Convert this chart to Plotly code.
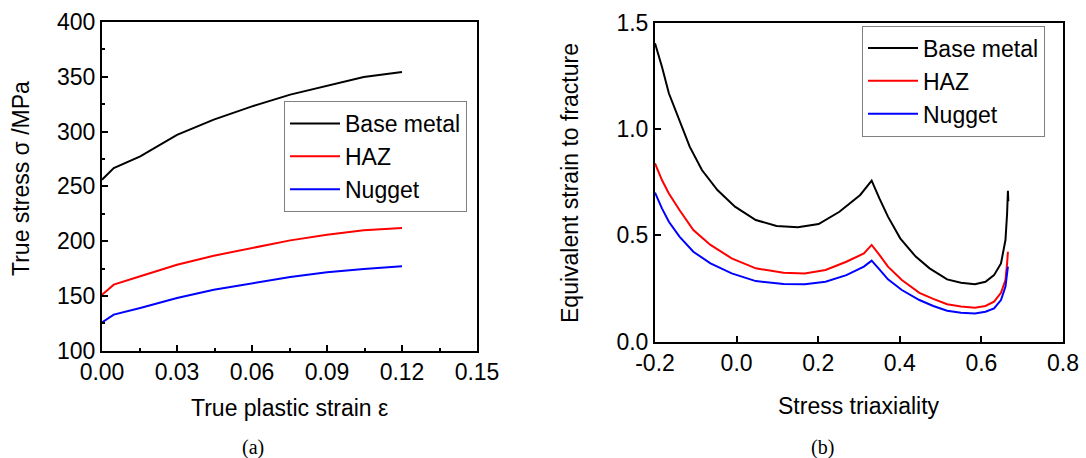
import plotly.graph_objects as go

W, H = 1086, 458

# ---------------- Panel (a) data ----------------
strain_a = [0.0, 0.0047, 0.0153, 0.030, 0.0447, 0.060, 0.0753, 0.090, 0.1047, 0.120]
base_a = [256, 266.7, 277.4, 297, 310.9, 323, 333.7, 341.9, 349.8, 354.4]
haz_a = [151.1, 160.3, 167.9, 178.5, 186.7, 193.7, 200.7, 205.9, 209.9, 212]
nug_a = [125.9, 132.9, 139.0, 148.1, 155.7, 161.8, 167.3, 171.5, 174.6, 177]

# ---------------- Panel (b) data ----------------
tri_base = [-0.2, -0.183, -0.166, -0.140, -0.115, -0.085, -0.047, -0.004, 0.047, 0.098,
            0.150, 0.201, 0.252, 0.303, 0.331, 0.350, 0.371, 0.401, 0.439, 0.473,
            0.516, 0.550, 0.584, 0.610, 0.631, 0.648, 0.659, 0.663, 0.665, 0.666]
eps_base = [1.403, 1.293, 1.168, 1.042, 0.917, 0.807, 0.713, 0.635, 0.572, 0.544,
            0.538, 0.553, 0.611, 0.690, 0.757, 0.674, 0.588, 0.486, 0.400, 0.345,
            0.293, 0.277, 0.270, 0.282, 0.313, 0.368, 0.478, 0.603, 0.710, 0.660]

tri_haz = [-0.2, -0.183, -0.166, -0.140, -0.106, -0.064, -0.012, 0.047, 0.115, 0.167,
           0.218, 0.269, 0.312, 0.331, 0.350, 0.371, 0.405, 0.448, 0.482, 0.516,
           0.550, 0.584, 0.610, 0.631, 0.648, 0.659, 0.663, 0.665]
eps_haz = [0.839, 0.760, 0.697, 0.619, 0.525, 0.455, 0.392, 0.345, 0.324, 0.321,
           0.337, 0.376, 0.415, 0.455, 0.408, 0.353, 0.290, 0.230, 0.201, 0.176,
           0.165, 0.160, 0.168, 0.188, 0.230, 0.290, 0.368, 0.423]

tri_nug = [-0.2, -0.183, -0.166, -0.140, -0.106, -0.064, -0.012, 0.047, 0.115, 0.167,
           0.218, 0.269, 0.312, 0.331, 0.350, 0.371, 0.405, 0.448, 0.482, 0.516,
           0.550, 0.584, 0.610, 0.631, 0.648, 0.659, 0.663, 0.665]
eps_nug = [0.701, 0.627, 0.564, 0.494, 0.423, 0.368, 0.321, 0.285, 0.271, 0.270,
           0.282, 0.313, 0.353, 0.381, 0.340, 0.293, 0.243, 0.196, 0.168, 0.146,
           0.136, 0.133, 0.141, 0.157, 0.196, 0.259, 0.321, 0.353]

series_names = ["Base metal", "HAZ", "Nugget"]
colors = ["#000000", "#ff0000", "#0000ff"]

xa_ticks = [0.0, 0.03, 0.06, 0.09, 0.12, 0.15]
xa_labels = ["0.00", "0.03", "0.06", "0.09", "0.12", "0.15"]
ya_ticks = [100, 150, 200, 250, 300, 350, 400]
xb_ticks = [-0.2, 0.0, 0.2, 0.4, 0.6, 0.8]
xb_labels = ["-0.2", "0.0", "0.2", "0.4", "0.6", "0.8"]
yb_ticks = [0.0, 0.5, 1.0, 1.5]
yb_labels = ["0.0", "0.5", "1.0", "1.5"]

FONT = "Arial"
SERIF = "Times New Roman"
FS = 23

fig = go.Figure()
for name, ys, c in zip(series_names, [base_a, haz_a, nug_a], colors):
    fig.add_trace(go.Scatter(x=strain_a, y=ys, mode="lines", name=name,
                             line=dict(color=c, width=2), xaxis="x", yaxis="y",
                             legend="legend"))
for name, xs, ys, c in zip(series_names, [tri_base, tri_haz, tri_nug],
                           [eps_base, eps_haz, eps_nug], colors):
    fig.add_trace(go.Scatter(x=xs, y=ys, mode="lines", name=name,
                             line=dict(color=c, width=2), xaxis="x2", yaxis="y2",
                             legend="legend2"))

def px_x(p):
    return p / W

def px_y(p):
    return 1 - p / H

axis_common = dict(showline=True, linecolor="black", linewidth=2, mirror=True,
                   ticks="inside", ticklen=6, tickwidth=2, tickcolor="black",
                   showgrid=False, zeroline=False, automargin=False,
                   tickfont=dict(family=FONT, size=FS, color="black"))

fig.update_layout(
    width=W, height=H, autosize=False,
    margin=dict(l=0, r=0, t=0, b=0, pad=0),
    paper_bgcolor="white", plot_bgcolor="white",
    font=dict(family=FONT, size=FS, color="black"),
    xaxis=dict(domain=[px_x(102), px_x(477)], range=[0, 0.15], anchor="y",
               tickvals=xa_ticks, ticktext=xa_labels,
               minor=dict(ticks="inside", ticklen=3, tickwidth=2, tickcolor="black",
                          dtick=0.015, tick0=0),
               **axis_common),
    yaxis=dict(domain=[px_y(350.7), px_y(22)], range=[100, 400], anchor="x",
               tickvals=ya_ticks,
               minor=dict(ticks="inside", ticklen=3, tickwidth=2, tickcolor="black",
                          dtick=25, tick0=100),
               **axis_common),
    xaxis2=dict(domain=[px_x(655), px_x(1063)], range=[-0.2, 0.8], anchor="y2",
                tickvals=xb_ticks, ticktext=xb_labels, **axis_common),
    yaxis2=dict(domain=[px_y(341.7), px_y(22.7)], range=[0, 1.5], anchor="x2",
                tickvals=yb_ticks, ticktext=yb_labels, **axis_common),
    legend=dict(x=px_x(284), y=px_y(101), xanchor="left", yanchor="top",
                bgcolor="white", bordercolor="#808080", borderwidth=1,
                font=dict(family=FONT, size=FS, color="black"), itemwidth=50,
                tracegroupgap=0),
    legend2=dict(x=px_x(862), y=px_y(25.5), xanchor="left", yanchor="top",
                 bgcolor="white", bordercolor="#808080", borderwidth=1,
                 font=dict(family=FONT, size=FS, color="black"), itemwidth=50,
                 tracegroupgap=0),
    showlegend=True,
)

ann = [
    dict(text="True stress \u03c3 /MPa", x=px_x(21), y=px_y(179), textangle=-90),
    dict(text="True plastic strain \u03b5", x=px_x(289), y=px_y(408), textangle=0),
    dict(text="Equivalent strain to fracture", x=px_x(570), y=px_y(183), textangle=-90),
    dict(text="Stress triaxiality", x=px_x(859), y=px_y(406), textangle=0),
]
for a in ann:
    fig.add_annotation(xref="paper", yref="paper", showarrow=False,
                       xanchor="center", yanchor="middle",
                       font=dict(family=FONT, size=FS, color="black"), **a)
for t, xp in [("(a)", 253), ("(b)", 822)]:
    fig.add_annotation(text=t, xref="paper", yref="paper", x=px_x(xp), y=px_y(447),
                       showarrow=False, xanchor="center", yanchor="middle",
                       font=dict(family=SERIF, size=20, color="black"))

fig.write_html("out.html")
